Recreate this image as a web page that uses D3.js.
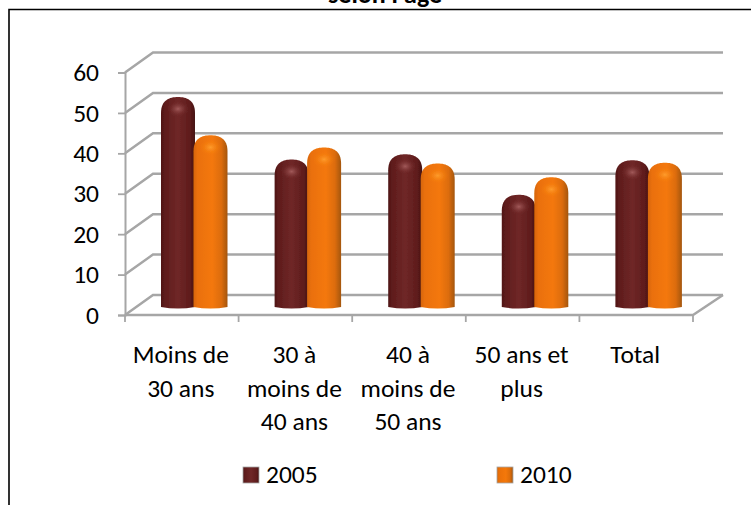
<!DOCTYPE html>
<html>
<head>
<meta charset="utf-8">
<script src="https://cdnjs.cloudflare.com/ajax/libs/d3/7.8.5/d3.min.js"></script>
<style>
  html, body { margin: 0; padding: 0; background: #fff; overflow: hidden; }
  text { font-family: "Carlito", "Open Sans", "Noto Sans", sans-serif; fill: #000; }
</style>
</head>
<body>
<div id="chart"></div>
<script>
// values
var categories = ["Moins de 30 ans", "30 à moins de 40 ans", "40 à moins de 50 ans", "50 ans et plus", "Total"];
var categoryLines = [["Moins de", "30 ans"], ["30 à", "moins de", "40 ans"], ["40 à", "moins de", "50 ans"], ["50 ans et", "plus"], ["Total"]];
var seriesNames = ["2005", "2010"];
var values2005 = [50.5, 35, 36.3, 26.3, 34.8];
var values2010 = [41, 38, 34, 30.6, 34.2];
var yTicks = [0, 10, 20, 30, 40, 50, 60];

var width = 751;
var height = 505;
var fontSize = 25.5;

// the 3d box: front plane and how far the back wall is shifted
var left = 125, right = 693, bottom = 315, top60 = 72.5;
var depthX = 28, depthY = -20;
// bars stand in the middle of the floor
var barBase = 308;
var capOver = 7; // the dome goes a little past the value

var svg = d3.select("#chart").append("svg")
  .attr("width", width)
  .attr("height", height);

var x = d3.scaleBand().domain(categories).range([left, right]);
var y = d3.scaleLinear().domain([0, 60]).range([bottom, top60]);
var yBar = d3.scaleLinear().domain([0, 60]).range([barBase, barBase - (bottom - top60)]);

// gradients
var defs = svg.append("defs");
function sideGradient(id, stops) {
  var g = defs.append("linearGradient").attr("id", id).attr("x1", 0).attr("x2", 1).attr("y1", 0).attr("y2", 0);
  stops.forEach(function(s) { g.append("stop").attr("offset", s[0]).attr("stop-color", s[1]); });
}
sideGradient("bar2005", [[0, "#4f1515"], [0.12, "#5f1c1c"], [0.5, "#6f2727"], [0.85, "#5f1c1c"], [1, "#451212"]]);
sideGradient("bar2010", [[0, "#d56508"], [0.12, "#ea7008"], [0.55, "#f4780a"], [0.82, "#dc6c0a"], [1, "#a4560f"]]);

function capGradient(id, centre, rim) {
  var g = defs.append("radialGradient").attr("id", id).attr("cx", 0.5).attr("cy", 0.5).attr("r", 0.5);
  g.append("stop").attr("offset", 0).attr("stop-color", centre).attr("stop-opacity", 0.9);
  g.append("stop").attr("offset", 1).attr("stop-color", rim).attr("stop-opacity", 0);
}
capGradient("shine2005", "#a86060", "#6f2727");
capGradient("shine2010", "#ffa030", "#f4780a");

// soft edge on the bars, the source picture is a little blurred
var blur = defs.append("filter").attr("id", "soft");
blur.append("feGaussianBlur").attr("stdDeviation", 0.5);

// frame, cut by the window on the right and bottom
svg.append("path")
  .attr("d", "M9,505V9.5H751")
  .attr("fill", "none")
  .attr("stroke", "#000")
  .attr("stroke-width", 1.6);

// title is cut by the top of the window
svg.append("text")
  .attr("x", 385)
  .attr("y", 2.5)
  .attr("text-anchor", "middle")
  .attr("font-size", 26)
  .attr("font-weight", "bold")
  .text("selon l'âge");

var grey = "#a6a6a6";

// walls and gridlines
var gridG = svg.append("g").attr("fill", "none").attr("stroke", grey);
gridG.selectAll("path.grid")
  .data(yTicks)
  .enter().append("path")
  .attr("class", "grid")
  .attr("stroke-width", 2.5)
  .attr("d", function(d) {
    return "M" + left + "," + y(d) + "L" + (left + depthX) + "," + (y(d) + depthY) + "H" + (right + depthX + 2);
  });

// floor
gridG.append("path")
  .attr("stroke-width", 2.5)
  .attr("d", "M" + left + "," + bottom + "H" + right + "L" + (right + depthX + 2) + "," + (bottom + depthY));

// axis lines and ticks
var axisY = d3.axisLeft(y).tickValues(yTicks).tickSize(7).tickPadding(19);
var yAxisG = svg.append("g").attr("transform", "translate(" + left + ",0)").call(axisY);
yAxisG.selectAll("line").attr("stroke", grey).attr("stroke-width", 1.8);
yAxisG.select(".domain").attr("stroke", grey).attr("stroke-width", 2);
yAxisG.selectAll("text").attr("font-size", fontSize).attr("font-family", null);

var tickXs = categories.map(function(c) { return x(c); }).concat([right]);
svg.append("g").selectAll("line")
  .data(tickXs)
  .enter().append("line")
  .attr("x1", function(d) { return d; })
  .attr("x2", function(d) { return d; })
  .attr("y1", bottom)
  .attr("y2", bottom + 7)
  .attr("stroke", grey)
  .attr("stroke-width", 1.8);

// category labels
var catG = svg.append("g").attr("text-anchor", "middle").attr("font-size", fontSize);
categoryLines.forEach(function(lines, i) {
  lines.forEach(function(line, j) {
    catG.append("text")
      .attr("x", x(categories[i]) + x.bandwidth() / 2 - 1)
      .attr("y", 363 + j * 33.5)
      .text(line);
  });
});

// bars, rounded on top like the excel cylinders
var barW = 34;
var domeH = 16;
function barPath(xLeft, v) {
  var t = yBar(v) - capOver;
  var r = barW / 2;
  return "M" + xLeft + "," + (barBase - 1)
    + "V" + (t + domeH)
    + "C" + xLeft + "," + (t + 3) + " " + (xLeft + r * 0.5) + "," + t + " " + (xLeft + r) + "," + t
    + "C" + (xLeft + barW - r * 0.5) + "," + t + " " + (xLeft + barW) + "," + (t + 3) + " " + (xLeft + barW) + "," + (t + domeH)
    + "V" + (barBase - 1)
    + "Q" + (xLeft + r) + "," + (barBase + 2) + " " + xLeft + "," + (barBase - 1) + "Z";
}

function drawSeries(values, name, offset) {
  var g = svg.append("g").attr("filter", "url(#soft)");
  g.selectAll("path")
    .data(values)
    .enter().append("path")
    .attr("d", function(d, i) { return barPath(x(categories[i]) + offset, d); })
    .attr("fill", "url(#bar" + name + ")");
  g.selectAll("ellipse")
    .data(values)
    .enter().append("ellipse")
    .attr("cx", function(d, i) { return x(categories[i]) + offset + barW / 2; })
    .attr("cy", function(d) { return yBar(d) - capOver + 12; })
    .attr("rx", 11)
    .attr("ry", 8)
    .attr("fill", "url(#shine" + name + ")");
}
drawSeries(values2005, "2005", 36);
drawSeries(values2010, "2010", 68.5);

// legend
var legendX = [243, 497];
var legendG = svg.append("g");
seriesNames.forEach(function(name, i) {
  legendG.append("rect")
    .attr("x", legendX[i])
    .attr("y", 467)
    .attr("width", 16)
    .attr("height", 16)
    .attr("fill", "url(#bar" + name + ")")
    .attr("stroke", grey)
    .attr("stroke-width", 0.8);
  legendG.append("text")
    .attr("x", legendX[i] + 23)
    .attr("y", 483)
    .attr("font-size", fontSize)
    .text(name);
});
</script>
</body>
</html>
